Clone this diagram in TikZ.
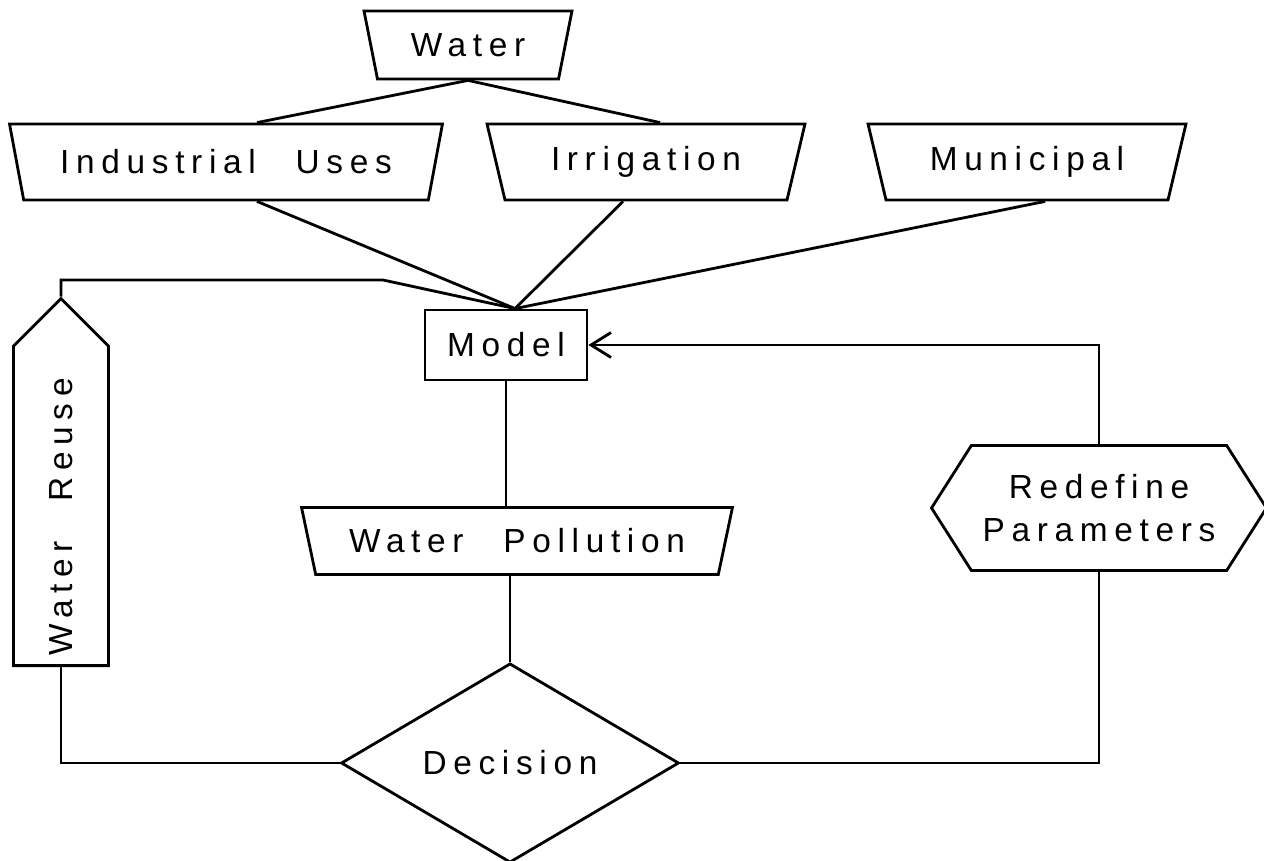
\documentclass[tikz,border=0pt]{standalone}
\usepackage{fontspec}
\setmainfont{Liberation Sans}[LetterSpace=20, WordSpace=2.5]
\usetikzlibrary{positioning,calc,arrows.meta,shapes.geometric,shapes.symbols}

\begin{document}
\begin{tikzpicture}[
  x=0.02cm, y=-0.02cm,
  font=\fontsize{19}{24}\selectfont,
  line width=1.6pt,
  uso/.style={draw, trapezium, trapezium left angle=120,
    trapezium right angle=120, trapezium stretches body,
    inner sep=0pt, minimum height=1.52cm},
  modelo/.style={draw, rectangle, inner sep=0pt, minimum width=3.24cm,
    minimum height=1.4cm},
  decision/.style={draw, diamond, inner sep=0pt, minimum width=6.76cm,
    minimum height=3.8cm},
  hexa/.style={draw, signal, signal to=west and east,
    signal pointer angle=115, align=center, inner sep=0pt,
    minimum width=6.7cm, minimum height=2.5cm},
  reuso/.style={draw, signal, signal to=east, signal pointer angle=90,
    rotate=90, inner sep=0pt, minimum width=7.34cm, minimum height=1.9cm},
  flecha/.style={-{Straight Barb[length=4mm,width=5mm]}}]
\useasboundingbox (0,0) rectangle (1264,861);
% Fuente y usos del agua
\node[uso, minimum width=4.16cm, minimum height=1.36cm] (water) at (468,45) {Water};
\node[uso, minimum width=8.66cm] (ind) at (226,162) {Industrial Uses};
\node[uso, minimum width=6.36cm] (irr) at (646,162) {Irrigation};
\node[uso, minimum width=6.36cm] (mun) at (1027,162) {Municipal};
% Modelo, contaminacion y decision
\node[modelo] (model) at (506,345) {Model};
\node[uso, minimum width=8.62cm, minimum height=1.34cm] (wp) at (517,541) {Water Pollution};
\node[decision] (dec) at (510,763) {Decision};
% Retornos
\node[hexa] (redef) at (1099,508) {Redefine\\Parameters};
\node[reuso, anchor=west] (reuse) at (61,667) {};
\node[rotate=90] (reusetxt) at (61,517) {Water Reuse};
% Agua hacia los usos
\draw (water.south) -- ($(ind.north)+(31,0)$);
\draw (water.south) -- ($(irr.north)+(14,0)$);
% Usos hacia el modelo
\coordinate (junta) at ($(model.north)+(9,0)$);
\draw ($(ind.south)+(31,0)$) -- (junta);
\draw ($(irr.south)+(-23,0)$) -- (junta);
\draw ($(mun.south)+(18,0)$) -- (junta);
\coordinate (codo) at (383,280);
\draw (reuse.east) |- (codo) -- (junta);
% Cadena vertical
\draw (model.south) -- (model.south |- wp.north);
\draw (dec.north |- wp.south) -- (dec.north);
% Salidas de la decision
\draw (dec.west) -| (reuse.west);
\draw (dec.east) -| (redef.south);
\draw[flecha] (redef.north) |- (model.east);
\end{tikzpicture}
\end{document}
